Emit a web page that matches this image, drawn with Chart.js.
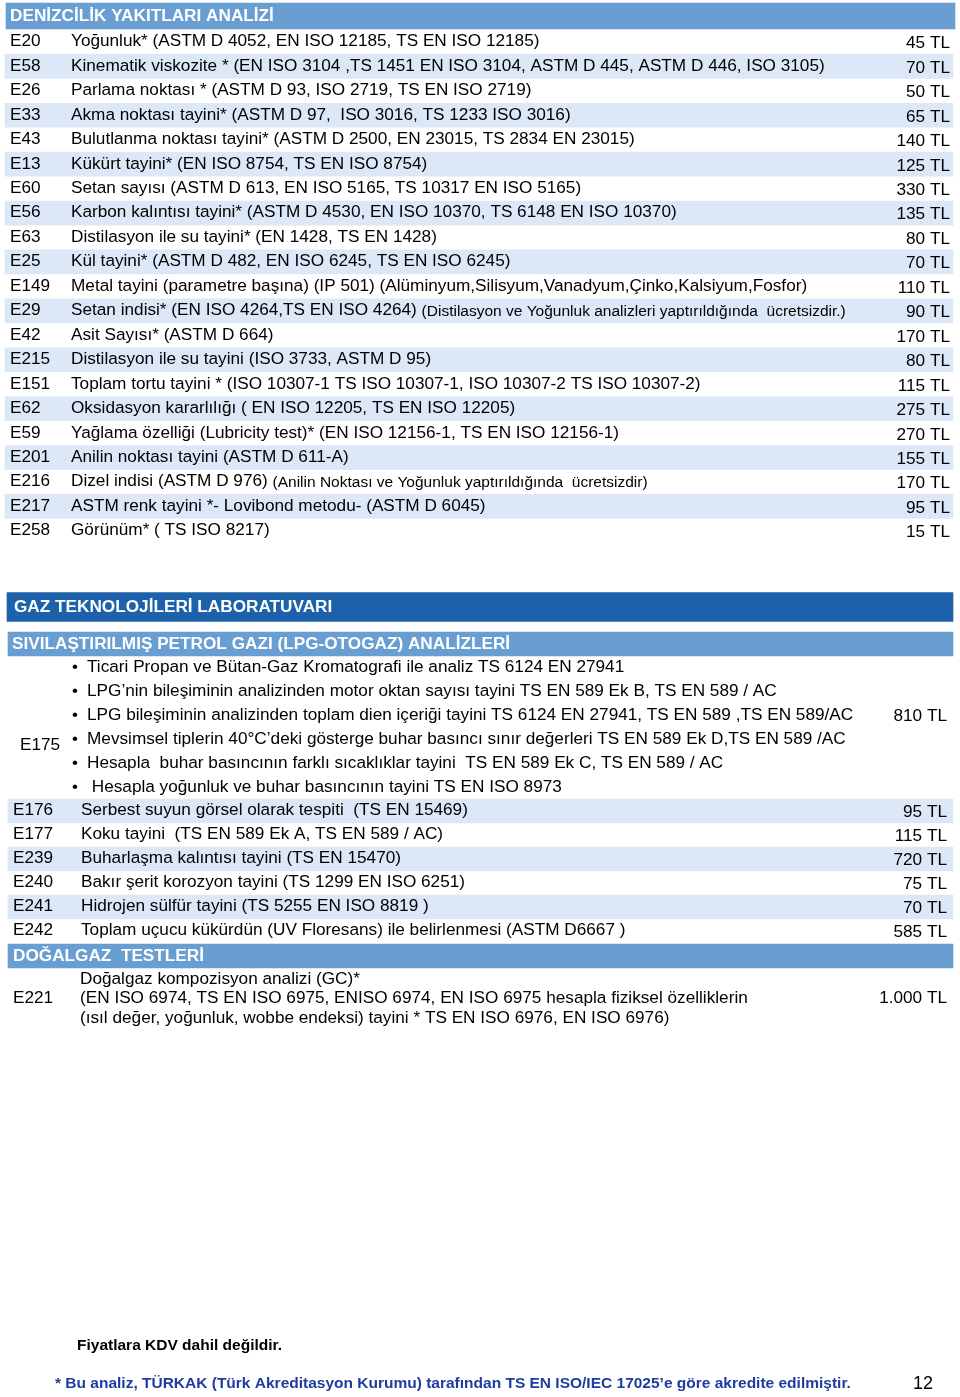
<!DOCTYPE html>
<html lang="tr">
<head>
<meta charset="utf-8">
<title>Analiz Fiyat Listesi</title>
<script src="https://cdn.jsdelivr.net/npm/chart.js@4.4.1/dist/chart.umd.min.js"></script>
<style>
  html, body { margin: 0; padding: 0; background: #fff; }
  #wrap { position: relative; width: 960px; height: 1397px; }
</style>
</head>
<body>
<div id="wrap"><canvas id="priceChart"></canvas></div>
<script>
// Denizcilik yakıtları analizi
const marineTitle = 'DENİZCİLİK YAKITLARI ANALİZİ';
const marineCodes = ['E20', 'E58', 'E26', 'E33', 'E43', 'E13', 'E60', 'E56', 'E63', 'E25', 'E149',
    'E29', 'E42', 'E215', 'E151', 'E62', 'E59', 'E201', 'E216', 'E217', 'E258'];
const marineTests = [
    'Yoğunluk* (ASTM D 4052, EN ISO 12185, TS EN ISO 12185)',
    'Kinematik viskozite * (EN ISO 3104 ,TS 1451 EN ISO 3104, ASTM D 445, ASTM D 446, ISO 3105)',
    'Parlama noktası * (ASTM D 93, ISO 2719, TS EN ISO 2719)',
    'Akma noktası tayini* (ASTM D 97,  ISO 3016, TS 1233 ISO 3016)',
    'Bulutlanma noktası tayini* (ASTM D 2500, EN 23015, TS 2834 EN 23015)',
    'Kükürt tayini* (EN ISO 8754, TS EN ISO 8754)',
    'Setan sayısı (ASTM D 613, EN ISO 5165, TS 10317 EN ISO 5165)',
    'Karbon kalıntısı tayini* (ASTM D 4530, EN ISO 10370, TS 6148 EN ISO 10370)',
    'Distilasyon ile su tayini* (EN 1428, TS EN 1428)',
    'Kül tayini* (ASTM D 482, EN ISO 6245, TS EN ISO 6245)',
    'Metal tayini (parametre başına) (IP 501) (Alüminyum,Silisyum,Vanadyum,Çinko,Kalsiyum,Fosfor)',
    'Setan indisi* (EN ISO 4264,TS EN ISO 4264)',
    'Asit Sayısı* (ASTM D 664)',
    'Distilasyon ile su tayini (ISO 3733, ASTM D 95)',
    'Toplam tortu tayini * (ISO 10307-1 TS ISO 10307-1, ISO 10307-2 TS ISO 10307-2)',
    'Oksidasyon kararlılığı ( EN ISO 12205, TS EN ISO 12205)',
    'Yağlama özelliği (Lubricity test)* (EN ISO 12156-1, TS EN ISO 12156-1)',
    'Anilin noktası tayini (ASTM D 611-A)',
    'Dizel indisi (ASTM D 976)',
    'ASTM renk tayini *- Lovibond metodu- (ASTM D 6045)',
    'Görünüm* ( TS ISO 8217)'
];
// küçük yazılan açıklamalar (satır içinde)
const marineNotes = ['', '', '', '', '', '', '', '', '', '', '',
    '(Distilasyon ve Yoğunluk analizleri yaptırıldığında  ücretsizdir.)',
    '', '', '', '', '', '',
    '(Anilin Noktası ve Yoğunluk yaptırıldığında  ücretsizdir)',
    '', ''];
const marinePrices = [45, 70, 50, 65, 140, 125, 330, 135, 80, 70, 110, 90, 170, 80, 115, 275, 270, 155, 170, 95, 15];

// Gaz teknolojileri laboratuvarı
const gasTitle = 'GAZ TEKNOLOJİLERİ LABORATUVARI';
const lpgTitle = 'SIVILAŞTIRILMIŞ PETROL GAZI (LPG-OTOGAZ) ANALİZLERİ';
const e175Code = 'E175';
const e175Items = [
    'Ticari Propan ve Bütan-Gaz Kromatografi ile analiz TS 6124 EN 27941',
    'LPG’nin bileşiminin analizinden motor oktan sayısı tayini TS EN 589 Ek B, TS EN 589 / AC',
    'LPG bileşiminin analizinden toplam dien içeriği tayini TS 6124 EN 27941, TS EN 589 ,TS EN 589/AC',
    'Mevsimsel tiplerin 40°C’deki gösterge buhar basıncı sınır değerleri TS EN 589 Ek D,TS EN 589 /AC',
    'Hesapla  buhar basıncının farklı sıcaklıklar tayini  TS EN 589 Ek C, TS EN 589 / AC',
    ' Hesapla yoğunluk ve buhar basıncının tayini TS EN ISO 8973'
];
const e175Price = 810;
const lpgCodes = ['E176', 'E177', 'E239', 'E240', 'E241', 'E242'];
const lpgTests = [
    'Serbest suyun görsel olarak tespiti  (TS EN 15469)',
    'Koku tayini  (TS EN 589 Ek A, TS EN 589 / AC)',
    'Buharlaşma kalıntısı tayini (TS EN 15470)',
    'Bakır şerit korozyon tayini (TS 1299 EN ISO 6251)',
    'Hidrojen sülfür tayini (TS 5255 EN ISO 8819 )',
    'Toplam uçucu kükürdün (UV Floresans) ile belirlenmesi (ASTM D6667 )'
];
const lpgPrices = [95, 115, 720, 75, 70, 585];

// Doğalgaz testleri
const ngTitle = 'DOĞALGAZ  TESTLERİ';
const ngCode = 'E221';
const ngLines = [
    'Doğalgaz kompozisyon analizi (GC)*',
    '(EN ISO 6974, TS EN ISO 6975, ENISO 6974, EN ISO 6975 hesapla fiziksel özelliklerin',
    '(ısıl değer, yoğunluk, wobbe endeksi) tayini * TS EN ISO 6976, EN ISO 6976)'
];
const ngPrice = 1000;

const vatNote = 'Fiyatlara KDV dahil değildir.';
const accreditNote = '* Bu analiz, TÜRKAK (Türk Akreditasyon Kurumu) tarafından TS EN ISO/IEC 17025’e göre akredite edilmiştir.';
const pageNo = '12';

// Sayfa düzeni (ölçek birimleri = sayfa pikseli)
const L = {
    marineHeader: 16, marineFirst: 41.6, marinePitch: 24.45,
    gasHeader: 607, lpgHeader: 644, e175First: 667, e175Pitch: 24,
    lpgFirst: 810, lpgPitch: 24, ngHeader: 956, ngFirst: 979, ngPitch: 19.5,
    vat: 1346, accredit: 1384
};
const FONT = '"Liberation Sans", Arial, Helvetica, sans-serif';
const BLUE = '#689ed2', DARK = '#1c61aa', LIGHT = '#dce8f8';

const marineY = i => L.marineFirst + i * L.marinePitch;
const lpgY = i => L.lpgFirst + i * L.lpgPitch;

function tl(v) {
    // 1000 -> "1.000 TL"
    return String(v).replace(/\B(?=(\d{3})+(?!\d))/g, '.') + ' TL';
}

// satır zeminleri
const stripeData = [];
marineCodes.forEach((c, i) => { if (i % 2 === 1) stripeData.push({ x: [5, 953], y: marineY(i) + 0.3 }); });
lpgCodes.forEach((c, i) => { if (i % 2 === 0) stripeData.push({ x: [8, 953], y: lpgY(i) + 1 }); });

const tablePlugin = {
    id: 'tableText',
    afterDatasetsDraw(chart) {
        const { ctx, scales: { x, y } } = chart;
        const put = (str, xv, yv, font, color, align) => {
            ctx.font = font;
            ctx.fillStyle = color || '#000';
            ctx.textAlign = align || 'left';
            ctx.textBaseline = 'middle';
            ctx.fillText(str, x.getPixelForValue(xv), y.getPixelForValue(yv));
        };
        const reg = '17.2px ' + FONT, bold = 'bold 17.2px ' + FONT;
        const small = '15.5px ' + FONT;
        ctx.save();

        // başlıklar
        put(marineTitle, 10, L.marineHeader, bold, '#fff');
        put(gasTitle, 14, L.gasHeader, bold, '#fff');
        put(lpgTitle, 12, L.lpgHeader, bold, '#fff');
        put(ngTitle, 13, L.ngHeader, bold, '#fff');

        // denizcilik satırları
        marineCodes.forEach((code, i) => {
            const yy = marineY(i);
            put(code, 10, yy, reg);
            put(marineTests[i], 71, yy, reg);
            if (marineNotes[i]) {
                ctx.font = reg;
                const w = ctx.measureText(marineTests[i] + ' ').width;
                put(marineNotes[i], 71 + w, yy + 1, small);
            }
            put(tl(marinePrices[i]), 950, yy + 2, reg, '#000', 'right');
        });

        // E175 maddeleri
        e175Items.forEach((t, j) => {
            const yy = L.e175First + j * L.e175Pitch;
            put('•', 72, yy, '17px ' + FONT);
            put(t, 87, yy, reg);
        });
        put(e175Code, 20, L.e175First + 3.25 * L.e175Pitch, reg);
        put(tl(e175Price), 947, L.e175First + 2 * L.e175Pitch + 1, reg, '#000', 'right');

        lpgCodes.forEach((code, i) => {
            const yy = lpgY(i);
            put(code, 13, yy, reg);
            put(lpgTests[i], 81, yy, reg);
            put(tl(lpgPrices[i]), 947, yy + 2, reg, '#000', 'right');
        });

        // doğalgaz
        ngLines.forEach((t, j) => put(t, 80, L.ngFirst + j * L.ngPitch, reg));
        put(ngCode, 13, L.ngFirst + L.ngPitch, reg);
        put(tl(ngPrice), 947, L.ngFirst + L.ngPitch, reg, '#000', 'right');

        // dipnotlar
        put(vatNote, 77, L.vat, 'bold 15.5px ' + FONT);
        put(accreditNote, 55, L.accredit, 'bold 15.5px ' + FONT, '#1f3c9e');
        put(pageNo, 913, L.accredit, '18px ' + FONT);
        ctx.restore();
    }
};

new Chart(document.getElementById('priceChart'), {
    type: 'bar',
    data: {
        datasets: [
            { data: stripeData, backgroundColor: LIGHT, barThickness: 24, grouped: false },
            { data: [{ x: [6, 955], y: L.marineHeader }], backgroundColor: BLUE, barThickness: 26, grouped: false },
            { data: [{ x: [7, 953], y: L.gasHeader }], backgroundColor: DARK, barThickness: 29, grouped: false },
            { data: [{ x: [8, 953], y: L.lpgHeader }, { x: [8, 953], y: L.ngHeader }], backgroundColor: BLUE, barThickness: 24, grouped: false }
        ]
    },
    options: {
        indexAxis: 'y',
        responsive: true,
        maintainAspectRatio: false,
        animation: false,
        layout: { padding: 0 },
        plugins: { legend: { display: false }, tooltip: { enabled: false } },
        scales: {
            x: { type: 'linear', min: 0, max: 960, offset: false, display: false },
            y: { type: 'linear', min: 0, max: 1397, reverse: true, offset: false, display: false }
        }
    },
    plugins: [tablePlugin]
});
</script>
</body>
</html>
